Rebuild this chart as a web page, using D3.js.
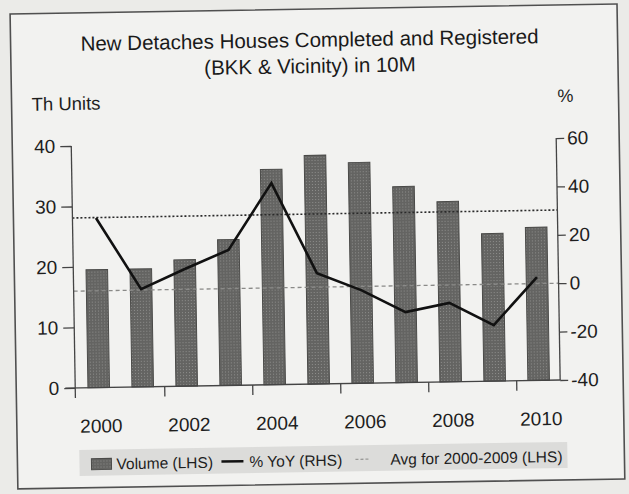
<!DOCTYPE html>
<html>
<head>
<meta charset="utf-8">
<script src="https://cdnjs.cloudflare.com/ajax/libs/d3/7.8.5/d3.min.js"></script>
<style>
  html, body { margin: 0; padding: 0; background: #ebebe8; }
  svg { display: block; font-family: "Liberation Sans", Arial, sans-serif; }
  .axis text { fill: #1e1e1e; font-size: 19px; }
  .axis path, .axis line { stroke: #444; stroke-width: 1.3; }
</style>
</head>
<body>
<div id="chart"></div>
<script>
(function() {
    // data
    var years = [2000, 2001, 2002, 2003, 2004, 2005, 2006, 2007, 2008, 2009, 2010];
    var volume = [19.5, 19.5, 20.9, 24.1, 35.6, 37.8, 36.5, 32.4, 29.8, 24.4, 25.3];
    var yoy = [30.1, 0.4, 8.4, 16.0, 43.3, 5.8, -1.5, -10.9, -7.4, -16.9, 2.7];
    var avgVolume = 28.1;
    var leftTicks = [0, 10, 20, 30, 40];
    var rightTicks = [-40, -20, 0, 20, 40, 60];
    var yearLabels = [2000, 2002, 2004, 2006, 2008, 2010];
    var titleLines = ["New Detaches Houses Completed and Registered", "(BKK & Vicinity) in 10M"];

    var width = 629,
        height = 494;

    var left = 73, right = 558, top = 142, bottom = 384;

    var svg = d3.select("#chart")
        .append("svg")
        .attr("width", width)
        .attr("height", height);

    // bar stipple
    var pat = svg.append("defs").append("pattern")
        .attr("id", "dots")
        .attr("width", 3).attr("height", 3)
        .attr("patternUnits", "userSpaceOnUse");
    pat.append("rect").attr("width", 3).attr("height", 3).attr("fill", "#646462");
    pat.append("rect").attr("x", 1).attr("y", 1).attr("width", 1).attr("height", 1).attr("fill", "#8e8e8c");

    // the photo is slightly tilted
    var g = svg.append("g").attr("transform", "rotate(-0.94, 315, 250)");

    g.append("rect")
        .attr("x", 14).attr("y", 9)
        .attr("width", 607).attr("height", 475)
        .attr("fill", "#f2f2f0")
        .attr("stroke", "#505050")
        .attr("stroke-width", 1.6);

    var x = d3.scaleBand()
        .domain(years)
        .range([74.5, 558.5])
        .paddingInner(0.51)
        .paddingOuter(0.255);

    var yLeft = d3.scaleLinear().domain([0, 40]).range([bottom, top]);
    var yRight = d3.scaleLinear().domain([-40, 60]).range([bottom, top]);

    // title
    g.selectAll(".title")
        .data(titleLines)
        .enter().append("text")
        .attr("class", "title")
        .attr("x", 313)
        .attr("y", function(d, i) { return 47 + i * 26; })
        .attr("text-anchor", "middle")
        .attr("font-size", 20.5)
        .attr("fill", "#1a1a1a")
        .text(function(d) { return d; });

    g.append("text")
        .attr("x", 34).attr("y", 106)
        .attr("font-size", 18.5).attr("fill", "#1e1e1e")
        .text("Th Units");

    g.append("text")
        .attr("x", 560).attr("y", 106)
        .attr("font-size", 18).attr("fill", "#1e1e1e")
        .text("%");

    // bars
    g.selectAll(".bar")
        .data(years)
        .enter().append("rect")
        .attr("class", "bar")
        .attr("x", function(d) { return x(d); })
        .attr("width", x.bandwidth())
        .attr("y", function(d, i) { return yLeft(volume[i]); })
        .attr("height", function(d, i) { return yLeft(0) - yLeft(volume[i]); })
        .attr("fill", "url(#dots)")
        .attr("stroke", "#4a4a48")
        .attr("stroke-width", 1);

    // zero line for the RHS
    g.append("line")
        .attr("x1", left).attr("x2", right)
        .attr("y1", yRight(0)).attr("y2", yRight(0))
        .attr("stroke", "#8a8a88")
        .attr("stroke-width", 1.3)
        .attr("stroke-dasharray", "4,3");

    // average line
    g.append("line")
        .attr("x1", left).attr("x2", right)
        .attr("y1", yLeft(avgVolume)).attr("y2", yLeft(avgVolume))
        .attr("stroke", "#2a2a2a")
        .attr("stroke-width", 1.6)
        .attr("stroke-dasharray", "2,2");

    // yoy line
    var line = d3.line()
        .x(function(d, i) { return x(years[i]) + x.bandwidth() / 2; })
        .y(function(d) { return yRight(d); });

    g.append("path")
        .datum(yoy)
        .attr("d", line)
        .attr("fill", "none")
        .attr("stroke", "#111")
        .attr("stroke-width", 2.6)
        .attr("stroke-linejoin", "miter");

    // axes (plain hyphen for negatives, like the source)
    var plain = function(d) { return String(d); };

    g.append("g")
        .attr("class", "axis")
        .attr("transform", "translate(" + left + ",0)")
        .call(d3.axisLeft(yLeft).tickValues(leftTicks).tickFormat(plain).tickSize(11).tickPadding(5).tickSizeOuter(0))
        .call(function(s) { s.select(".domain").remove(); });

    g.append("line")
        .attr("x1", left).attr("x2", left)
        .attr("y1", top).attr("y2", bottom + 10)
        .attr("stroke", "#444").attr("stroke-width", 1.3);

    g.append("g")
        .attr("class", "axis")
        .attr("transform", "translate(" + right + ",0)")
        .call(d3.axisRight(yRight).tickValues(rightTicks).tickFormat(plain).tickSize(8).tickPadding(3).tickSizeOuter(0))
        .call(function(s) { s.select(".domain").remove(); });

    g.append("line")
        .attr("x1", right).attr("x2", right)
        .attr("y1", top).attr("y2", bottom)
        .attr("stroke", "#444").attr("stroke-width", 1.3);

    // category axis
    g.append("line")
        .attr("x1", left - 10).attr("x2", right)
        .attr("y1", bottom).attr("y2", bottom)
        .attr("stroke", "#444").attr("stroke-width", 1.3);

    var gap = x.step() - x.bandwidth();
    g.selectAll(".xtick")
        .data(yearLabels.slice(1))
        .enter().append("line")
        .attr("class", "xtick")
        .attr("x1", function(d) { return x(d) - gap / 2; })
        .attr("x2", function(d) { return x(d) - gap / 2; })
        .attr("y1", bottom).attr("y2", bottom + 10)
        .attr("stroke", "#444").attr("stroke-width", 1.3);

    g.selectAll(".xlabel")
        .data(yearLabels)
        .enter().append("text")
        .attr("class", "xlabel")
        .attr("x", function(d) { return x(d) + x.bandwidth() / 2 + 2; })
        .attr("y", 429)
        .attr("text-anchor", "middle")
        .attr("font-size", 19)
        .attr("fill", "#1e1e1e")
        .text(function(d) { return d; });

    // legend
    var lg = g.append("g");
    lg.append("rect")
        .attr("x", 76).attr("y", 446)
        .attr("width", 488).attr("height", 26)
        .attr("fill", "#dcdcda");

    lg.append("rect")
        .attr("x", 88).attr("y", 455)
        .attr("width", 20).attr("height", 11)
        .attr("fill", "url(#dots)")
        .attr("stroke", "#4a4a48");

    lg.append("text")
        .attr("x", 113).attr("y", 466)
        .attr("font-size", 15.5).attr("fill", "#1e1e1e")
        .text("Volume (LHS)");

    lg.append("line")
        .attr("x1", 218).attr("x2", 240)
        .attr("y1", 460).attr("y2", 460)
        .attr("stroke", "#111").attr("stroke-width", 2.6);

    lg.append("text")
        .attr("x", 246).attr("y", 466)
        .attr("font-size", 15.5).attr("fill", "#1e1e1e")
        .text("% YoY (RHS)");

    lg.append("line")
        .attr("x1", 352).attr("x2", 367)
        .attr("y1", 460).attr("y2", 460)
        .attr("stroke", "#9a9a98").attr("stroke-width", 1.3)
        .attr("stroke-dasharray", "3,2");

    lg.append("text")
        .attr("x", 387).attr("y", 466)
        .attr("font-size", 15.5).attr("fill", "#1e1e1e")
        .text("Avg for 2000-2009 (LHS)");
})();
</script>
</body>
</html>
